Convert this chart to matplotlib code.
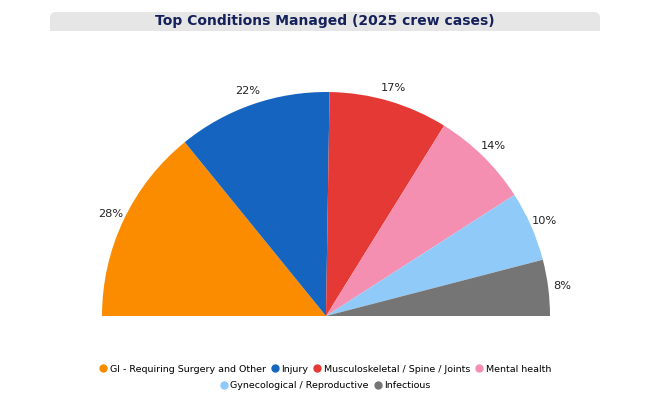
import matplotlib.pyplot as plt
import numpy as np
from matplotlib.patches import FancyBboxPatch, Rectangle
from matplotlib.lines import Line2D

categories = [
    "GI - Requiring Surgery and Other",
    "Injury",
    "Musculoskeletal / Spine / Joints",
    "Mental health",
    "Gynecological / Reproductive",
    "Infectious",
]
values = [28, 22, 17, 14, 10, 8]
colors = ["#FB8C00", "#1565C0", "#E53935", "#F48FB1", "#90CAF9", "#757575"]
title = "Top Conditions Managed (2025 crew cases)"

W, H = 658, 418
fig = plt.figure(figsize=(W / 100, H / 100), dpi=100)
ax = fig.add_axes([0, 0, 1, 1])

cx, cy, r = 326, H - 316, 224
total = sum(values)

# half pie: pad with an invisible wedge the size of the total
wedges, _ = ax.pie(
    values + [total],
    colors=colors + ["none"],
    center=(cx, cy),
    radius=r,
    startangle=180,
    counterclock=False,
    wedgeprops=dict(linewidth=0),
)
wedges[-1].set_visible(False)

# percent labels outside each slice
start = 180.0
for v in values:
    span = v / total * 180
    mid = np.radians(start - span / 2)
    ax.text(cx + 238 * np.cos(mid), cy + 238 * np.sin(mid), f"{v}%",
            ha="center", va="center", fontsize=8.2, color="#222222")
    start -= span

# title bar
ax.add_patch(FancyBboxPatch((50, H - 31), 550, 19,
                            boxstyle="round,pad=0,rounding_size=6",
                            fc="#e6e6e6", ec="none"))
ax.add_patch(Rectangle((50, H - 31), 550, 8, fc="#e6e6e6", ec="none"))
ax.text(325, H - 21.5, title, ha="center", va="center",
        fontsize=10, fontweight="bold", color="#14215a")

ax.set_xlim(0, W)
ax.set_ylim(0, H)
ax.set_aspect("auto")
ax.axis("off")

handles = [Line2D([], [], marker="o", ls="", color=c, markersize=5) for c in colors]
leg_kw = dict(frameon=False, fontsize=6.8, handletextpad=0.2, columnspacing=0.45,
              handlelength=1.0, loc="center")
fig.legend(handles[:4], categories[:4], ncol=4,
           bbox_to_anchor=(325 / W, 1 - 369 / H), **leg_kw)
fig.legend(handles[4:], categories[4:], ncol=2,
           bbox_to_anchor=(325 / W, 1 - 386 / H), **leg_kw)

fig.savefig("out.png", dpi=100)
